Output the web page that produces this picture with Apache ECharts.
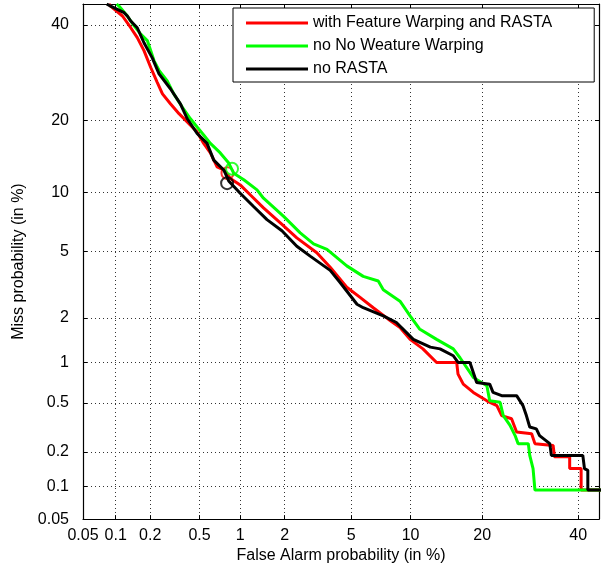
<!DOCTYPE html>
<html>
<head>
<meta charset="utf-8">
<script src="https://cdn.jsdelivr.net/npm/echarts@6/dist/echarts.min.js"></script>
<style>
html,body{margin:0;padding:0;background:#fff;}
#chart{width:605px;height:569px;}
</style>
</head>
<body>
<div id="chart"></div>
<script>
// ---- data (percent values: [false alarm %, miss %]) ----
const tickPercents = [0.05, 0.1, 0.2, 0.5, 1, 2, 5, 10, 20, 40];
const tickLabels = ['0.05', '0.1', '0.2', '0.5', '1', '2', '5', '10', '20', '40'];
const axisRangePercent = [0.05, 45];
const seriesNames = ['with Feature Warping and RASTA', 'no No Weature Warping', 'no RASTA'];
const seriesColors = ['#ff0000', '#00ff00', '#000000'];

const redCurve = [[0.087,45],[0.090,44.5],[0.115,42.1],[0.136,39.3],[0.155,37.0],[0.177,34.0],[0.202,30.3],[0.229,27.2],[0.253,24.9],[0.294,23.0],[0.345,21.2],[0.425,19.2],[0.479,18.1],[0.538,16.3],[0.605,14.9],[0.679,13.0],[0.761,12.6],[0.85,11.55],[1.0,10.8],[1.18,9.69],[1.45,8.4],[1.875,7.07],[2.39,5.91],[3.17,4.91],[3.80,4.07],[4.72,3.10],[5.58,2.69],[6.55,2.32],[7.81,1.96],[8.91,1.73],[9.95,1.44],[11.4,1.24],[13.1,0.995],[15.9,0.995],[16.1,0.82],[16.9,0.692],[18.5,0.60],[20.8,0.518],[22.6,0.475],[23.5,0.397],[25.4,0.375],[26.4,0.293],[29.5,0.284],[30.2,0.235],[34.2,0.227],[34.5,0.182],[38.0,0.182],[38.0,0.144],[40.7,0.144],[40.7,0.093],[46,0.093]];

const greenCurve = [[0.102,45],[0.107,44.5],[0.127,42.1],[0.145,39.8],[0.166,37.8],[0.189,36.3],[0.202,34.0],[0.215,31.8],[0.237,29.7],[0.277,27.5],[0.313,24.9],[0.366,22.4],[0.425,20.3],[0.479,18.9],[0.538,17.6],[0.605,16.3],[0.717,14.9],[0.827,13.5],[0.898,12.2],[1.06,11.4],[1.31,10.25],[1.45,9.36],[1.97,7.63],[2.51,6.28],[3.03,5.49],[3.64,5.12],[4.72,4.14],[5.80,3.60],[6.95,3.38],[7.37,3.0],[8.91,2.55],[9.95,2.06],[11.0,1.69],[13.1,1.44],[15.4,1.24],[16.4,1.075],[18.5,0.776],[20.8,0.673],[21.3,0.518],[23.2,0.504],[23.8,0.397],[25.1,0.332],[26.1,0.274],[26.7,0.235],[28.8,0.235],[29.1,0.187],[29.8,0.144],[30.2,0.093],[46,0.093]];

const blackCurve = [[0.083,45],[0.090,44.5],[0.119,42.9],[0.127,42.1],[0.136,40.9],[0.155,39.3],[0.177,35.8],[0.208,32.4],[0.237,28.95],[0.294,25.9],[0.354,23.0],[0.40,20.35],[0.479,17.85],[0.571,16.3],[0.641,13.9],[0.761,12.6],[0.827,11.26],[1.0,9.88],[1.24,8.54],[1.53,7.35],[1.92,6.44],[2.39,5.33],[2.89,4.70],[3.80,3.90],[4.33,3.31],[5.37,2.44],[5.80,2.32],[7.37,2.06],[8.56,1.865],[10.3,1.44],[12.3,1.275],[13.55,1.24],[15.4,1.11],[16.1,0.995],[17.95,0.995],[19.05,0.713],[21.3,0.692],[21.9,0.60],[23.5,0.567],[26.4,0.567],[27.7,0.475],[28.4,0.397],[29.1,0.322],[30.5,0.311],[31.2,0.274],[33.45,0.235],[33.8,0.187],[41.1,0.187],[41.5,0.144],[42.3,0.139],[42.3,0.093],[46,0.093]];

// operating-point circles
const redMarker = [0.81, 12.2];
const greenMarker = [0.874, 12.75];
const blackMarker = [0.805, 11.0];

// ---- normal deviate (probit) scale ----
function probit(p) {
  const a=[-3.969683028665376e+01,2.209460984245205e+02,-2.759285104469687e+02,1.383577518672690e+02,-3.066479806614716e+01,2.506628277459239e+00];
  const b=[-5.447609879822406e+01,1.615858368580409e+02,-1.556989798598866e+02,6.680131188771972e+01,-1.328068155288572e+01];
  const c=[-7.784894002430293e-03,-3.223964580411365e-01,-2.400758277161838e+00,-2.549732539343734e+00,4.374664141464968e+00,2.938163982698783e+00];
  const d=[7.784695709041462e-03,3.224671290700398e-01,2.445134137142996e+00,3.754408661907416e+00];
  const pl=0.02425, ph=1-pl;
  let q, r;
  if (p < pl) { q=Math.sqrt(-2*Math.log(p)); return (((((c[0]*q+c[1])*q+c[2])*q+c[3])*q+c[4])*q+c[5])/((((d[0]*q+d[1])*q+d[2])*q+d[3])*q+1); }
  if (p <= ph) { q=p-0.5; r=q*q; return (((((a[0]*r+a[1])*r+a[2])*r+a[3])*r+a[4])*r+a[5])*q/(((((b[0]*r+b[1])*r+b[2])*r+b[3])*r+b[4])*r+1); }
  q=Math.sqrt(-2*Math.log(1-p)); return -(((((c[0]*q+c[1])*q+c[2])*q+c[3])*q+c[4])*q+c[5])/((((d[0]*q+d[1])*q+d[2])*q+d[3])*q+1);
}
const pr = v => probit(v / 100);
const toXY = pt => [pr(pt[0]), pr(pt[1])];

const tickVals = tickPercents.map(pr);
const axMin = pr(axisRangePercent[0]);
const axMax = pr(axisRangePercent[1]);
function fmt(v) {
  for (let i = 0; i < tickVals.length; i++) if (Math.abs(tickVals[i] - v) < 1e-6) return tickLabels[i];
  return '';
}

const FONT = "'Liberation Sans', Arial, Helvetica, sans-serif";
const gridLine = { show: true, lineStyle: { color: '#333', width: 1, type: [1, 3] } };

function mkAxis(extra) {
  return Object.assign({
    type: 'value', min: axMin, max: axMax,
    axisLine: { show: true, onZero: false, lineStyle: { color: '#000', width: 1.2 } },
    axisTick: { show: true, inside: true, length: 4, customValues: tickVals, lineStyle: { color: '#000', width: 1 } },
    axisLabel: { show: true, customValues: tickVals, formatter: fmt, color: '#000', fontSize: 16, fontFamily: FONT },
    splitLine: { show: false }
  }, extra);
}

const xMain = mkAxis({
  position: 'bottom', splitLine: gridLine,
  name: 'False Alarm probability (in %)', nameLocation: 'middle', nameGap: 25,
  nameTextStyle: { color: '#000', fontSize: 16, fontFamily: FONT }
});
xMain.axisLabel = Object.assign({}, xMain.axisLabel, { margin: 8 });
const xTop = mkAxis({ position: 'top' });
xTop.axisLabel = { show: false };
const yMain = mkAxis({
  position: 'left', splitLine: gridLine,
  name: 'Miss probability (in %)', nameLocation: 'middle', nameGap: 41,
  nameTextStyle: { color: '#000', fontSize: 16, fontFamily: FONT }
});
yMain.axisLabel = Object.assign({}, yMain.axisLabel, { margin: 14 });
const yRight = mkAxis({ position: 'right' });
yRight.axisLabel = { show: false };

const curves = [redCurve, greenCurve, blackCurve];
const markers = [redMarker, greenMarker, blackMarker];

const series = [];
curves.forEach((c, i) => {
  series.push({
    name: seriesNames[i], type: 'line', data: c.map(toXY),
    showSymbol: false, symbol: 'none', clip: true,
    lineStyle: { color: seriesColors[i], width: 3 },
    itemStyle: { color: seriesColors[i] },
    xAxisIndex: 0, yAxisIndex: 0, animation: false, z: 3 + i
  });
});
markers.forEach((m, i) => {
  series.push({
    name: seriesNames[i] + ' point', type: 'scatter', data: [toXY(m)],
    symbol: 'circle', symbolSize: 12,
    itemStyle: { color: 'rgba(0,0,0,0)', borderColor: seriesColors[i], borderWidth: 2 },
    xAxisIndex: 0, yAxisIndex: 0, animation: false, z: 3 + i, silent: true
  });
});

const chart = echarts.init(document.getElementById('chart'), null, { renderer: 'canvas' });
chart.setOption({
  animation: false,
  backgroundColor: '#fff',
  grid: { left: 83, right: 6, top: 4, bottom: 48, containLabel: false, show: false },
  xAxis: [xMain, xTop],
  yAxis: [yMain, yRight],
  legend: {
    data: seriesNames,
    orient: 'vertical', left: 233, top: 8,
    padding: [5, 42, 3, 13],
    itemWidth: 62, itemHeight: 3, itemGap: 3,
    icon: 'rect',
    backgroundColor: '#fff', borderColor: '#000', borderWidth: 1,
    textStyle: { color: '#000', fontSize: 16, fontFamily: FONT, lineHeight: 20 },
    selectedMode: false
  },
  series: series
});
</script>
</body>
</html>
